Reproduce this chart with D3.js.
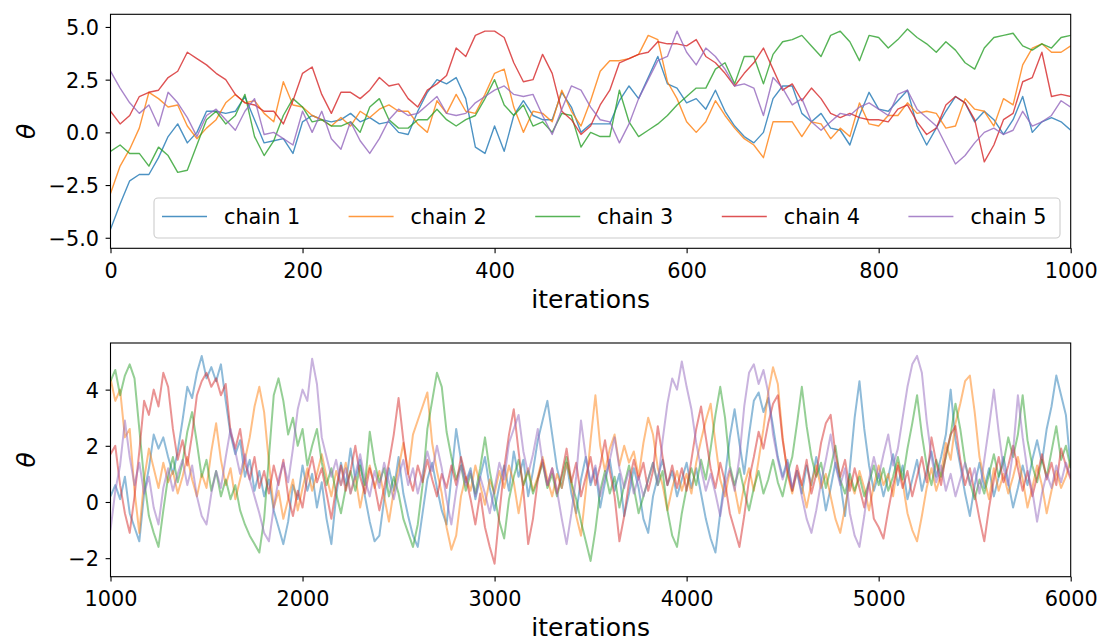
<!DOCTYPE html>
<html>
<head>
<meta charset="utf-8">
<script src="https://cdn.jsdelivr.net/npm/d3@7"></script>
<style>
  body { margin: 0; background: #fff; }
  svg { display: block; }
  text { font-family: "DejaVu Sans", sans-serif; fill: #000; }
</style>
</head>
<body>
<svg id="chart" width="1101" height="639"></svg>
<script>
// trace values, burn-in panel every 10 iterations
var topIters = d3.range(0, 1001, 10);
var top1 = [-4.6,-3.4,-2.3,-2.0,-2.0,-1.2,-0.2,0.4,-0.5,0.0,
  1.0,1.0,0.9,1.0,1.7,0.6,-0.5,-0.4,-0.3,-1.0,
  0.5,0.8,0.6,0.5,0.6,0.9,0.5,0.7,0.4,0.5,
  0.0,-0.1,1.0,1.9,2.5,2.3,2.6,1.6,-0.7,-1.0,
  0.3,-0.9,0.8,1.5,0.8,0.6,0.6,1.9,1.2,0.0,
  0.4,0.4,0.4,1.5,2.2,1.6,2.6,3.6,2.3,2.1,
  1.4,1.6,1.1,2.0,1.0,0.3,-0.2,-0.5,0.0,1.6,
  2.2,2.2,0.9,0.5,0.9,0.2,0.1,-0.6,0.8,1.9,
  1.1,1.0,1.5,2.0,0.3,-0.6,0.2,1.0,1.7,1.4,
  0.5,1.0,0.6,-0.1,0.6,1.7,0.0,0.5,0.7,0.5,
  0.1];
var top2 = [-2.9,-1.6,-0.8,0.2,1.9,1.6,1.2,1.3,0.3,-0.3,
  0.2,0.6,1.4,1.8,1.4,1.5,0.9,0.5,2.4,1.3,
  1.2,0.8,0.6,0.3,0.7,0.3,1.0,0.7,1.1,1.3,
  1.0,1.0,0.4,0.0,1.5,0.9,1.8,1.0,0.9,1.8,
  2.8,3.0,1.2,0.0,1.0,0.9,0.5,2.0,1.0,0.3,
  1.5,2.9,3.4,3.4,3.5,3.7,4.6,4.4,2.4,1.6,
  0.5,0.0,0.5,1.5,0.8,0.2,-0.3,-0.6,-1.2,0.5,
  0.5,0.5,-0.2,0.5,0.4,-0.3,0.2,-0.2,1.4,0.4,
  0.3,0.8,0.8,1.4,0.9,1.0,0.9,0.2,0.3,1.6,
  1.1,1.0,0.3,1.6,1.3,3.2,4.0,4.2,3.8,3.8,
  4.1];
var top3 = [-0.9,-0.6,-1.0,-1.0,-1.6,-0.7,-1.1,-1.9,-1.8,-0.6,
  0.6,1.0,0.4,0.8,1.8,-0.2,-1.1,-0.4,0.8,1.6,
  1.2,0.5,0.6,0.3,0.3,0.5,0.0,1.2,1.6,0.6,
  0.2,0.2,0.6,0.6,1.1,0.6,0.3,0.6,0.8,1.6,
  2.5,1.3,0.8,1.3,0.3,0.5,0.0,0.9,0.8,-0.7,
  0.0,-0.2,-0.2,2.0,0.5,-0.2,0.1,0.4,0.8,1.3,
  1.7,2.1,2.1,3.0,3.3,2.3,3.6,3.6,2.3,3.7,
  4.3,4.4,4.6,4.1,3.6,4.6,4.8,4.3,3.4,4.6,
  4.5,4.0,4.4,4.9,4.5,4.2,3.8,4.3,3.9,3.3,
  3.0,4.0,4.5,4.6,4.7,4.1,3.9,4.2,4.0,4.5,
  4.6];
var top4 = [1.0,0.4,0.8,1.7,1.9,2.0,2.6,2.9,3.8,3.5,
  3.2,2.8,2.5,1.8,1.4,1.3,1.0,1.0,0.4,1.5,
  2.8,3.1,1.8,0.9,1.9,1.9,1.6,2.0,2.6,2.2,
  2.3,1.6,1.2,2.0,2.3,2.7,4.0,3.6,4.6,4.8,
  4.8,4.5,3.3,2.4,2.5,3.7,2.8,1.0,0.6,-0.1,
  0.3,1.3,2.0,3.3,3.5,3.7,3.8,4.3,4.2,4.2,
  4.1,4.4,3.6,3.3,2.8,2.2,2.8,3.3,4.0,3.0,
  2.0,2.3,1.5,2.1,1.6,0.9,0.7,0.9,0.7,0.6,
  0.6,0.5,1.1,1.3,0.5,-0.1,0.2,1.3,1.7,1.4,
  0.6,-1.4,-0.6,0.6,0.9,2.4,2.6,3.8,1.7,1.8,
  1.7];
var top5 = [2.9,2.1,1.4,0.9,1.3,0.3,1.9,1.4,0.7,-0.2,
  0.8,1.1,0.6,0.1,1.0,1.6,-0.1,0.0,-0.3,-0.6,
  1.0,0.0,1.0,-0.3,-0.8,0.5,-0.4,-1.0,-0.3,0.6,
  1.1,0.8,0.9,1.3,1.7,0.9,0.8,0.9,1.4,1.7,
  2.0,2.2,1.8,1.7,1.8,0.8,-0.1,1.1,2.2,2.0,
  1.2,0.6,0.5,-0.5,0.4,1.6,2.5,3.4,3.6,4.8,
  3.8,3.2,4.0,3.6,3.0,2.2,2.3,2.1,0.8,2.6,
  2.1,1.3,1.6,0.5,0.1,0.5,0.9,0.8,1.2,1.4,
  1.1,0.8,1.8,2.0,1.1,0.7,0.3,-0.6,-1.5,-1.1,
  -0.5,0.0,0.2,-0.1,0.1,1.0,0.3,0.5,0.8,1.5,
  1.2];

// second panel every 25 iterations
var botIters = d3.range(1000, 6001, 25);
var bot1 = [0.2,0.6,0.1,0.9,-0.4,-0.9,-1.4,0.3,1.2,2.4,1.9,2.3,1.6,1.0,1.8,2.9,4.1,3.7,4.6,5.2,4.4,4.8,4.3,4.9,3.6,2.4,1.7,2.2,0.9,1.5,0.4,1.1,0.2,0.8,-0.3,-0.9,-1.5,-0.7,0.6,0.1,
  1.3,0.4,1.0,-0.2,0.7,-0.6,-1.5,0.2,1.4,0.6,1.9,0.8,1.5,0.2,-0.7,-1.4,-1.2,0.1,1.2,0.4,1.6,0.3,-0.5,-1.2,-1.6,-0.4,0.8,1.4,0.5,-0.3,-0.8,0.9,2.6,1.5,0.7,1.2,0.1,0.9,1.6,0.5,
  -0.3,0.6,1.3,0.4,1.8,0.9,1.5,0.2,1.1,2.2,2.9,3.6,2.4,1.2,0.5,1.4,0.3,-0.4,0.8,1.6,0.6,1.2,-0.2,0.7,1.5,0.4,1.0,-0.5,0.3,1.2,0.5,-0.6,-1.1,0.2,0.9,1.5,0.6,1.1,0.2,0.8,
  1.4,0.5,1.2,0.3,-0.6,-1.3,-1.8,-0.4,0.9,2.3,3.3,2.1,1.0,2.4,3.6,3.9,3.2,3.7,2.7,1.6,0.9,1.5,0.4,1.1,0.3,1.3,0.6,1.6,0.8,-0.3,0.5,1.4,0.7,-0.5,1.2,3.0,4.3,2.6,1.3,0.4,
  1.0,0.2,0.9,1.7,0.6,1.3,0.1,0.8,1.5,0.4,1.1,1.8,0.9,1.6,2.4,4.0,2.2,1.3,0.3,-0.5,0.6,1.4,0.5,1.2,0.2,0.9,1.6,0.7,-0.2,0.5,1.3,0.6,1.5,2.2,1.4,2.6,3.4,4.5,3.8,3.1,
  1.2];
var bot2 = [4.4,3.6,4.0,2.3,2.6,0.4,-1.1,0.8,1.9,1.2,0.5,1.4,0.7,1.1,0.3,0.9,1.6,0.8,0.2,1.0,0.5,1.8,2.8,1.5,0.6,1.2,0.1,0.8,1.5,2.3,3.4,4.1,3.2,1.4,-0.2,0.4,-0.6,0.1,0.8,-0.3,
  0.5,1.2,0.4,1.0,1.7,0.9,0.2,1.1,0.6,1.4,0.3,0.9,-0.2,0.7,1.3,0.5,1.1,0.2,-0.7,0.4,1.2,2.1,1.0,2.4,2.9,3.4,3.9,2.1,1.1,0.3,-0.9,-1.7,-1.2,0.2,0.9,0.4,1.3,0.6,-0.1,0.8,
  0.3,1.1,0.5,1.3,0.7,-0.4,0.6,1.2,0.4,0.9,1.6,0.8,0.2,1.0,0.5,1.4,0.7,-0.5,-1.2,0.4,2.2,3.8,2.0,1.1,1.9,2.4,1.3,2.0,1.4,1.8,0.9,2.1,3.0,2.4,1.2,0.6,-0.3,0.5,1.1,0.4,
  1.0,0.3,1.4,2.2,2.9,3.5,2.1,0.8,0.2,1.1,0.5,-0.4,0.6,1.2,0.4,1.5,2.6,3.9,4.8,4.2,2.3,1.0,0.3,1.1,0.6,-0.2,0.7,1.3,0.5,1.0,0.2,-0.6,-1.1,-0.2,0.8,0.3,1.1,0.5,-0.3,0.6,
  1.3,0.6,1.0,0.2,1.4,0.7,-0.4,-1.0,-1.4,-0.5,0.5,1.2,0.4,1.0,2.1,1.5,2.8,3.5,4.3,4.5,3.2,1.6,0.8,0.1,1.2,0.4,1.0,0.3,0.9,1.6,0.8,-0.2,0.5,1.3,0.6,-0.4,0.4,1.1,0.5,0.9,
  1.5];
var bot3 = [4.3,4.7,3.8,4.5,4.9,4.4,2.6,0.8,-0.5,-1.1,-1.6,-0.3,0.9,1.6,0.7,1.4,2.5,3.2,2.1,0.9,1.5,0.4,1.1,0.2,0.8,0.1,0.6,-0.3,-0.8,-1.2,-1.5,-1.8,-0.6,1.6,3.8,4.4,3.6,2.4,3.0,2.0,
  2.6,1.3,2.0,2.6,1.4,0.6,1.2,0.3,-0.4,0.5,1.1,0.4,1.3,0.6,2.5,1.4,0.7,1.2,0.2,0.9,0.3,-0.6,-1.1,-1.6,-0.8,0.6,2.6,3.6,4.6,4.1,2.5,1.6,0.8,1.3,0.4,1.0,0.3,1.2,2.3,1.1,
  0.2,-0.7,-1.3,0.1,0.9,1.5,0.6,1.1,0.3,0.8,1.4,0.5,1.0,0.2,0.9,1.6,0.7,0.1,-0.7,-1.4,-2.1,-1.0,0.4,1.1,0.3,0.9,-0.2,0.6,1.3,0.5,-0.4,0.2,0.8,1.4,0.6,1.1,-0.3,-1.2,-1.6,-0.4,
  0.5,1.2,0.6,1.5,0.8,1.9,3.1,4.1,3.0,1.3,0.6,1.2,0.4,-0.3,0.5,1.1,0.3,0.8,1.5,0.7,0.2,1.0,1.6,2.8,4.1,2.7,1.6,0.9,1.4,0.5,1.2,2.0,0.8,0.3,1.0,0.4,0.9,0.2,0.7,1.3,
  0.6,1.2,0.4,0.9,1.6,0.8,1.9,2.8,3.8,2.4,1.3,0.6,1.5,0.9,1.6,2.4,3.5,2.6,1.4,0.7,0.1,0.8,0.3,1.0,1.7,0.9,1.4,2.3,1.6,2.4,3.8,2.2,1.3,0.7,1.5,0.9,1.8,2.7,1.5,2.0,
  1.2];
var bot4 = [1.7,2.0,0.6,-0.4,-1.1,0.2,1.8,3.6,3.1,4.0,3.4,4.6,4.1,2.6,1.5,2.2,1.3,2.4,3.8,4.3,4.6,4.1,4.4,3.8,4.2,2.5,1.9,2.6,1.4,0.8,1.6,0.5,1.1,0.3,1.3,0.6,1.5,0.2,-0.5,0.4,
  -0.2,0.9,1.6,0.7,1.2,0.3,-0.6,0.5,1.3,0.4,1.1,2.0,0.9,0.3,1.2,0.6,-0.3,0.5,1.4,2.4,3.7,2.2,1.0,0.4,1.3,0.7,1.5,0.8,0.2,1.0,0.5,1.3,0.6,1.6,0.9,0.1,-0.8,0.3,-0.9,-1.6,
  -2.2,-0.4,1.2,2.4,3.3,1.8,0.4,-1.5,-0.6,0.8,1.5,0.6,1.2,0.3,1.0,1.9,0.7,1.4,0.2,0.9,1.6,0.6,1.3,2.2,1.1,0.2,-1.4,-0.5,0.7,1.5,0.8,1.4,0.4,1.1,2.7,1.6,0.6,1.3,0.5,1.2,
  0.4,1.5,2.6,3.4,2.3,1.2,0.5,1.4,0.7,-0.4,-1.0,-1.6,-0.5,0.8,1.6,2.5,1.9,2.8,3.5,3.8,2.2,1.1,0.4,1.3,0.6,1.5,0.3,1.0,2.1,2.8,3.1,1.7,0.9,1.5,0.4,1.2,0.5,-0.2,0.7,-0.6,
  -0.9,-1.3,-0.3,0.6,1.3,0.5,1.1,0.2,0.9,1.6,0.7,2.3,1.4,0.6,1.7,2.4,2.7,1.5,0.6,1.2,0.3,-0.6,-1.4,-0.2,0.8,1.6,0.7,1.3,2.0,1.2,0.4,1.1,0.2,0.9,1.7,0.8,1.4,0.6,1.9,1.3,
  0.8];
var bot5 = [-1.0,0.4,1.3,2.9,1.6,0.6,1.4,0.3,0.9,-0.2,-0.8,0.5,1.2,0.4,1.0,1.5,0.6,1.3,0.2,-0.5,-0.8,0.3,1.1,0.5,1.6,2.6,1.8,1.0,1.7,0.8,0.2,-0.4,-1.1,-1.4,-0.2,0.8,1.4,0.7,1.9,3.3,
  4.0,3.6,5.1,4.2,2.3,1.6,0.9,1.5,0.6,1.2,0.3,1.0,1.7,0.8,0.2,1.1,0.5,1.4,0.7,0.1,0.9,1.5,0.6,1.2,0.3,1.0,1.8,1.1,2.0,1.2,0.1,-0.8,0.4,1.3,0.6,1.1,0.2,0.9,0.3,-0.4,
  0.5,1.4,0.8,2.1,2.6,3.1,1.8,1.0,1.7,2.6,1.4,0.6,1.2,0.4,-0.6,-1.5,-0.4,0.9,2.9,1.6,0.7,1.3,0.2,0.9,1.5,2.3,1.2,0.5,1.1,0.3,0.9,0.2,0.8,1.4,0.6,2.2,3.5,4.4,4.0,5.0,
  4.1,3.3,2.1,1.2,0.4,1.0,0.3,-0.5,0.6,1.2,0.4,1.6,3.4,4.6,4.9,4.2,4.7,3.9,2.4,1.5,0.8,1.4,0.5,1.1,0.2,-0.6,-1.1,-0.3,0.7,1.5,2.4,1.3,0.6,1.2,-0.4,-1.2,-1.6,-0.5,0.8,1.6,
  0.9,1.7,2.4,1.3,1.9,3.0,4.1,4.9,5.2,4.6,2.9,1.6,0.7,1.3,0.4,1.0,0.2,0.8,1.4,0.6,1.2,0.3,1.5,2.7,4.0,2.5,1.2,0.6,1.8,3.8,2.3,1.1,0.4,-0.7,0.3,1.0,0.5,1.3,0.7,1.4,
  0.9];

var chainNames = ['chain 1', 'chain 2', 'chain 3', 'chain 4', 'chain 5'];
var colors = ['#1f77b4', '#ff7f0e', '#2ca02c', '#d62728', '#9467bd'];
var topXTicks = [0, 200, 400, 600, 800, 1000];
var topYTicks = [-5, -2.5, 0, 2.5, 5];
var botXTicks = [1000, 2000, 3000, 4000, 5000, 6000];
var botYTicks = [-2, 0, 2, 4];

var svg = d3.select('#chart');
var L = 110.5, R = 1070.7;
var fs = 20.8;

function minusFmt(f) {
  return function(d) { return f(d).replace('-', '\u2212'); };
}

function panel(id, top, bottom, xDomain, yDomain, xTicks, yTicks, yFmt, series, iters, lw, op) {
  var x = d3.scaleLinear().domain(xDomain).range([L, R]);
  var y = d3.scaleLinear().domain(yDomain).range([bottom, top]);

  svg.append('clipPath').attr('id', id)
    .append('rect').attr('x', L).attr('y', top).attr('width', R - L).attr('height', bottom - top);

  var line = d3.line().x(function(d) { return x(d[0]); }).y(function(d) { return y(d[1]); });
  var lines = svg.append('g').attr('clip-path', 'url(#' + id + ')');
  series.forEach(function(vals, i) {
    lines.append('path')
      .datum(iters.map(function(t, k) { return [t, vals[k]]; }))
      .attr('d', line)
      .attr('fill', 'none')
      .attr('stroke', colors[i])
      .attr('stroke-width', lw)
      .attr('stroke-opacity', op)
      .attr('stroke-linejoin', 'round');
  });

  var xa = svg.append('g').attr('transform', 'translate(0,' + bottom + ')')
    .call(d3.axisBottom(x).tickValues(xTicks).tickSize(4.9).tickPadding(9.7).tickFormat(d3.format('d')));
  var ya = svg.append('g').attr('transform', 'translate(' + L + ',0)')
    .call(d3.axisLeft(y).tickValues(yTicks).tickSize(4.9).tickPadding(6.6).tickFormat(yFmt));
  [xa, ya].forEach(function(a) {
    a.select('.domain').remove();
    a.selectAll('line').attr('stroke', '#000').attr('stroke-width', 1.1);
    a.selectAll('text').style('font-size', fs + 'px').style('font-family', '"DejaVu Sans", sans-serif').attr('fill', '#000');
  });
  ya.selectAll('text').attr('dy', '0.365em');

  svg.append('rect').attr('x', L).attr('y', top).attr('width', R - L).attr('height', bottom - top)
    .attr('fill', 'none').attr('stroke', '#000').attr('stroke-width', 1.1);

  svg.append('text').attr('x', (L + R) / 2).attr('y', bottom + 59.3)
    .attr('text-anchor', 'middle').style('font-size', '25px').text('iterations');
  svg.append('text').attr('transform', 'translate(35,' + ((top + bottom) / 2) + ') rotate(-90)')
    .attr('text-anchor', 'middle').style('font-size', '25px').style('font-style', 'italic').text('\u03b8');
}

panel('clipTop', 14.3, 248.3, [0, 1000], [-5.5, 5.6], topXTicks, topYTicks, minusFmt(d3.format('.1f')),
  [top1, top2, top3, top4, top5], topIters, 1.4, 0.8);
panel('clipBot', 343, 576.7, [1000, 6000], [-2.66, 5.66], botXTicks, botYTicks, minusFmt(d3.format('d')),
  [bot1, bot2, bot3, bot4, bot5], botIters, 2.0, 0.5);

// legend of the first panel
var leg = svg.append('g');
leg.append('rect').attr('x', 154).attr('y', 198).attr('width', 906).attr('height', 40).attr('rx', 4)
  .attr('fill', '#fff').attr('fill-opacity', 0.8).attr('stroke', '#cccccc').attr('stroke-width', 1.1);
chainNames.forEach(function(name, i) {
  var x0 = 162 + i * 186.6;
  leg.append('line').attr('x1', x0).attr('x2', x0 + 45).attr('y1', 216.5).attr('y2', 216.5)
    .attr('stroke', colors[i]).attr('stroke-width', 1.4).attr('stroke-opacity', 0.8);
  leg.append('text').attr('x', x0 + 62).attr('y', 224).style('font-size', fs + 'px').text(name);
});
</script>
</body>
</html>
